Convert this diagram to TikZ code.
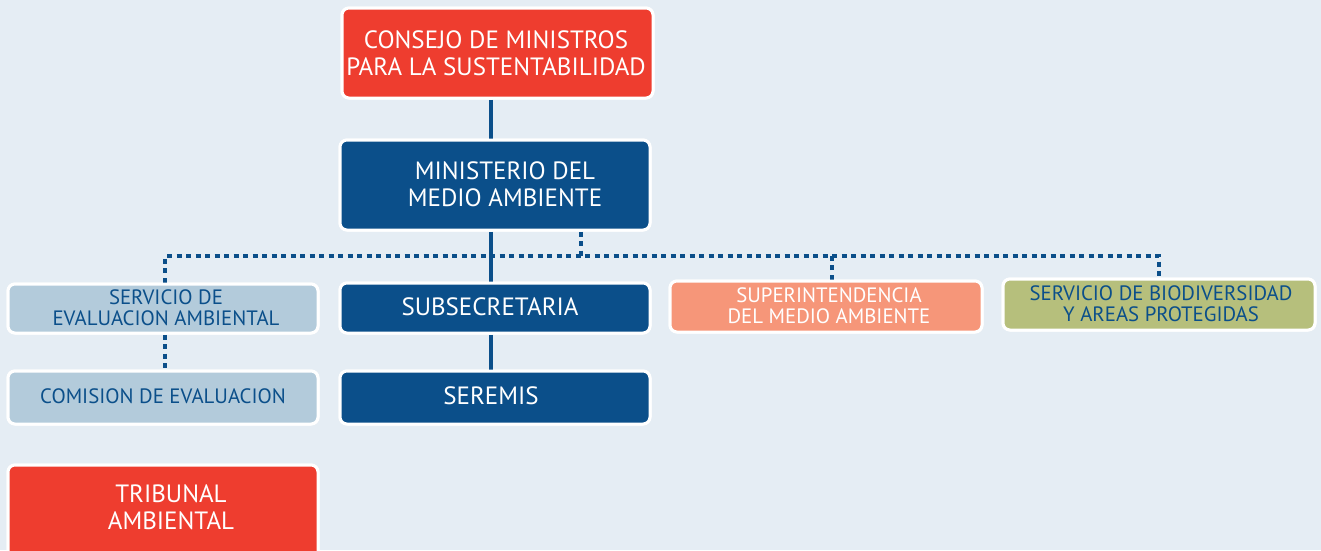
\documentclass[tikz,border=0pt]{standalone}
\usepackage{fontspec}
\setmainfont{PT Sans}
\definecolor{bgc}{HTML}{E5EDF4}
\definecolor{redc}{HTML}{EE3D2F}
\definecolor{bluec}{HTML}{0B4F8A}
\definecolor{lightc}{HTML}{B3CBDB}
\definecolor{salmonc}{HTML}{F69679}
\definecolor{olivec}{HTML}{B6BF7C}
\tikzset{
  boxbase/.style={draw=white, line width=3pt, rounded corners=7pt, align=center, inner sep=0pt},
  bigtxt/.style={font=\fontsize{25}{27}\selectfont},
  smalltxt/.style={font=\fontsize{20.8}{21}\selectfont},
  solidline/.style={draw=bluec, line width=4pt},
  dotline/.style={draw=bluec, line width=4pt, dash pattern=on 5pt off 4.5pt},
}
\begin{document}
\begin{tikzpicture}[x=1pt,y=-1pt]
\useasboundingbox (0,0) rectangle (1321,550);
\fill[bgc] (0,0) rectangle (1321,550);
% connectors first
\coordinate (hub) at (581,256);
\node[boxbase, minimum width=311pt, minimum height=90pt] (consejo) at (497.5,53) {};
\node[boxbase, minimum width=310pt, minimum height=90pt] (ministerio) at (495,185) {};
\node[boxbase, minimum width=310pt, minimum height=49pt] (sea) at (163,308.5) {};
\node[boxbase, minimum width=310pt, minimum height=50pt] (subsec) at (495,308) {};
\node[boxbase, minimum width=312pt, minimum height=51pt] (superint) at (826,306.5) {};
\node[boxbase, minimum width=312pt, minimum height=51pt] (biod) at (1159,304.5) {};
\node[boxbase, minimum width=310pt, minimum height=53pt] (comision) at (163,397.5) {};
\node[boxbase, minimum width=310pt, minimum height=53pt] (seremis) at (495,397.5) {};
\node[boxbase, minimum width=310pt, minimum height=100pt] (tribunal) at (163,515) {};
\draw[solidline] ([xshift=-6.5pt]consejo.south) -- ([xshift=-4pt]ministerio.north);
\draw[solidline] ([xshift=-4pt]ministerio.south) -- ([xshift=-4pt]subsec.north);
\draw[solidline] ([xshift=-4pt]subsec.south) -- ([xshift=-4pt]seremis.north);
\draw[dotline] ([xshift=86pt]ministerio.south) -- (hub);
\draw[dotline] ([xshift=2pt]sea.north) |- (hub) -| (biod.north);
\draw[dotline] ([xshift=6pt]superint.north) -- ([xshift=6pt]superint.north |- hub);
\draw[dotline] ([xshift=2pt]sea.south) -- ([xshift=2pt]comision.north);
% boxes on top
\node[boxbase, fill=redc, minimum width=311pt, minimum height=90pt] (consejoB) at (consejo) {};
\node[boxbase, fill=bluec, minimum width=310pt, minimum height=90pt] (ministerioB) at (ministerio) {};
\node[boxbase, fill=lightc, minimum width=310pt, minimum height=49pt] (seaB) at (sea) {};
\node[boxbase, fill=bluec, minimum width=310pt, minimum height=50pt] (subsecB) at (subsec) {};
\node[boxbase, fill=salmonc, minimum width=312pt, minimum height=51pt] (superintB) at (superint) {};
\node[boxbase, fill=olivec, minimum width=312pt, minimum height=51pt] (biodB) at (biod) {};
\node[boxbase, fill=lightc, minimum width=310pt, minimum height=53pt] (comisionB) at (comision) {};
\node[boxbase, fill=bluec, minimum width=310pt, minimum height=53pt] (seremisB) at (seremis) {};
\node[boxbase, fill=redc, minimum width=310pt, minimum height=100pt] (tribunalB) at (tribunal) {};
% texts
\node[bigtxt, text=white, align=center] (consejoT) at (496,53) {CONSEJO DE MINISTROS\\PARA LA SUSTENTABILIDAD};
\node[bigtxt, text=white, align=center] (ministerioT) at (505,184) {MINISTERIO DEL\\MEDIO AMBIENTE};
\node[smalltxt, text=bluec, align=center] (seaT) at (166,308) {SERVICIO DE\\EVALUACION AMBIENTAL};
\node[bigtxt, text=white] (subsecT) at (490,307) {SUBSECRETARIA};
\node[smalltxt, text=white, align=center] (superintT) at (829,306) {SUPERINTENDENCIA\\DEL MEDIO AMBIENTE};
\node[smalltxt, text=bluec, align=center] (biodT) at (1161,304) {SERVICIO DE BIODIVERSIDAD\\Y AREAS PROTEGIDAS};
\node[smalltxt, text=bluec] (comisionT) at (163,396) {COMISION DE EVALUACION};
\node[bigtxt, text=white] (seremisT) at (491,396) {SEREMIS};
\node[bigtxt, text=white, align=center] (tribunalT) at (171,507) {TRIBUNAL\\AMBIENTAL};
\end{tikzpicture}
\end{document}
